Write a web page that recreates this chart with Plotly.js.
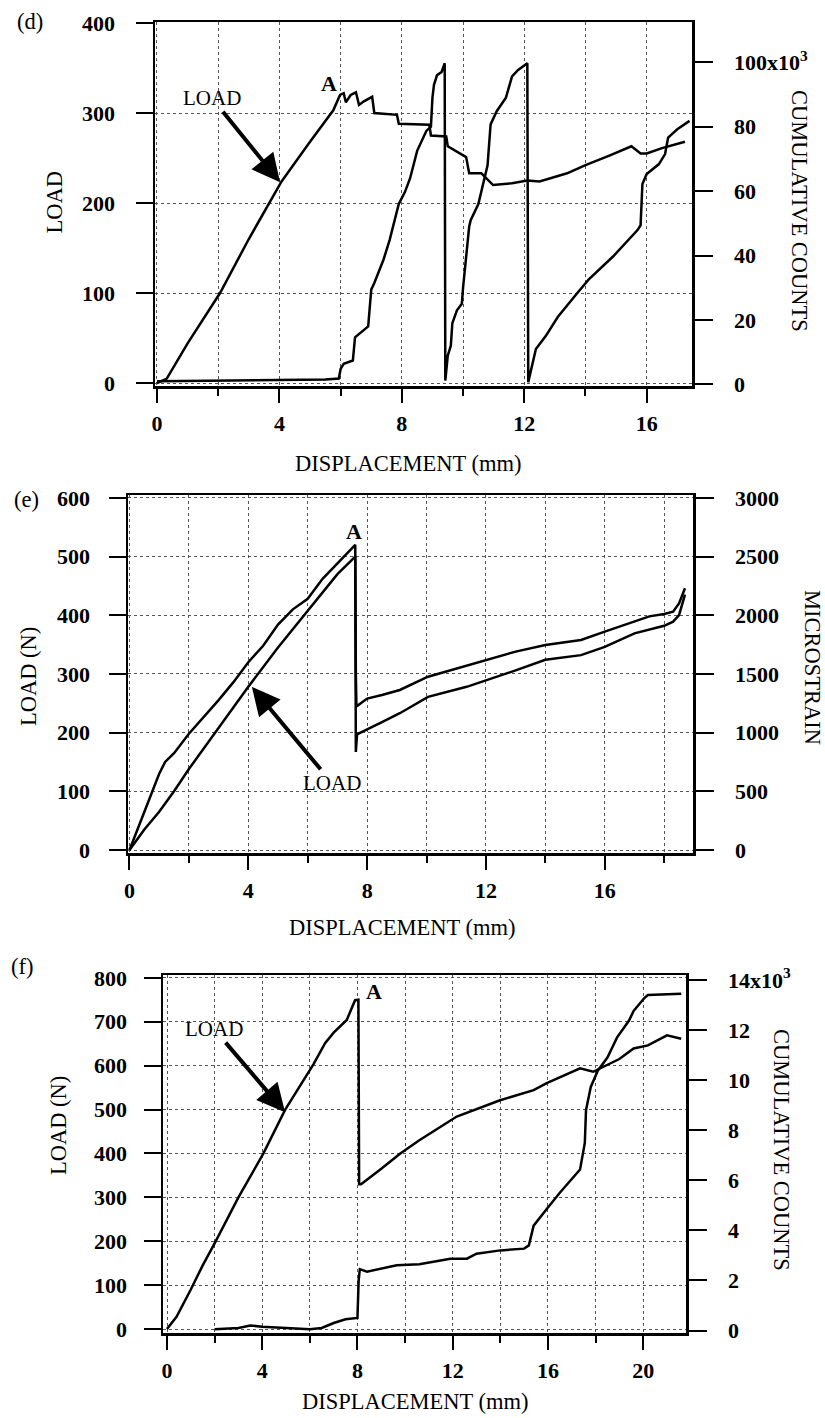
<!DOCTYPE html>
<html>
<head>
<meta charset="utf-8">
<script src="https://cdn.plot.ly/plotly-3.0.1.min.js"></script>
<style>
  html, body { margin: 0; padding: 0; background: #fff; }
  #chart { width: 825px; height: 1418px; }
</style>
</head>
<body>
<div id="chart"></div>
<script>
// ---------- Panel (d) ----------
const dLoadX = [0, 0.32, 1.0, 2.06, 3.0, 4.07, 5.0, 5.76, 5.98, 6.1, 6.17, 6.33, 6.5, 6.6, 6.76, 6.9, 7.03, 7.1, 7.84, 7.9, 8.9, 8.95, 9.45, 9.5, 10.1, 10.2, 10.6, 10.98, 11.6, 12.1, 12.5, 13.4, 14.0, 14.8, 15.5, 15.8, 16.0, 16.5, 17.25];
const dLoadY = [0, 5, 44, 100, 160, 224, 268, 303, 320, 322, 312, 320, 323, 309, 313, 316, 318, 300, 298, 288, 287, 275, 274, 263, 251, 233, 233, 220, 222, 225, 224, 233, 242, 253, 263, 255, 255, 261, 268];
const dCountsX = [0, 2, 4, 5.5, 5.94, 6.0, 6.1, 6.4, 6.47, 6.6, 6.9, 7.0, 7.1, 7.4, 7.6, 7.9, 8.1, 8.27, 8.5, 8.8, 8.95, 9.0, 9.05, 9.15, 9.3, 9.4, 9.42, 9.5, 9.6, 9.65, 9.8, 9.96, 10.0, 10.2, 10.25, 10.5, 10.6, 10.8, 10.9, 11.1, 11.4, 11.6, 11.8, 12.1, 12.13, 12.2, 12.38, 12.7, 13.1, 13.7, 14.1, 14.9, 15.7, 15.8, 15.86, 16.0, 16.4, 16.6, 16.7, 17.0, 17.4];
const dCountsY = [1.0, 1.2, 1.3, 1.5, 1.8, 4.8, 6.4, 7.4, 14.6, 15.6, 18, 29.4, 31.5, 38.7, 44.8, 56, 59.7, 64, 72.5, 78.7, 80, 89, 93, 96, 97, 99.7, 1.2, 8.9, 12, 19, 23, 25, 30, 49, 51, 56, 60, 68, 80.7, 84.8, 89, 95.6, 97.6, 99.7, 0.7, 3.8, 11, 15, 21, 28, 32.5, 39.7, 47.9, 49.4, 62.2, 65.3, 68.4, 71.5, 76.6, 79.2, 81.8];
const dCountsTickVals = [0, 20, 40, 60, 80, 100];
const dCountsTickText = ['0', '20', '40', '60', '80', '100x10<sup>3</sup>'];

// ---------- Panel (e) ----------
const eLoadX = [0, 0.5, 1.0, 1.5, 2.0, 3.0, 4.0, 5.0, 6.0, 7.0, 7.6, 7.62, 7.66, 8.0, 8.5, 9.1, 10.05, 11.35, 11.96, 13.0, 14.0, 15.2, 16.0, 17.0, 18.0, 18.3, 18.5, 18.64, 18.7];
const eLoadY = [0, 35, 65, 100, 138, 208, 278, 345, 408, 470, 500, 167, 197, 205, 218, 233, 261, 278, 288, 306, 324, 332, 346, 369, 382, 389, 400, 425, 435];
const eStrainX = [0, 0.3, 0.7, 1.0, 1.2, 1.5, 2, 2.5, 3, 3.5, 4, 4.5, 5, 5.5, 6, 6.5, 7, 7.3, 7.6, 7.62, 7.64, 7.68, 8, 8.5, 9.1, 10.05, 11.0, 11.96, 13.0, 14.0, 15.2, 16.0, 17.0, 17.5, 18.0, 18.3, 18.5, 18.64, 18.7];
const eStrainY = [0, 200, 450, 650, 750, 825, 990, 1130, 1277, 1430, 1600, 1740, 1920, 2050, 2140, 2310, 2445, 2520, 2600, 1500, 1225, 1230, 1290, 1320, 1363, 1476, 1545, 1618, 1690, 1746, 1789, 1860, 1945, 1990, 2010, 2030, 2100, 2187, 2230];

// ---------- Panel (f) ----------
const fLoadX = [0, 0.4, 1.0, 1.5, 2.0, 3.0, 4.05, 4.96, 6.15, 6.64, 7.0, 7.55, 7.9, 8.04, 8.07, 8.15, 9.0, 9.8, 10.6, 12.17, 13.99, 15.4, 15.95, 16.5, 17.35, 17.9, 18.2, 19.0, 19.6, 20.2, 21.0, 21.6];
const fLoadY = [0, 28, 90, 145, 195, 300, 400, 499, 603, 651, 675, 704, 749, 750, 330, 330, 365, 400, 430, 484, 521, 544, 560, 573, 594, 586, 594, 615, 639, 646, 669, 661];
const fCountsX = [2.0, 3.0, 3.5, 4.0, 5.0, 6.0, 6.5, 7.0, 7.5, 8.0, 8.05, 8.1, 8.4, 9.65, 10.6, 11.9, 12.6, 13.0, 14.0, 15.0, 15.2, 15.4, 15.95, 16.5, 17.35, 17.55, 17.6, 17.8, 18.1, 18.5, 18.9, 19.4, 19.6, 20.05, 20.2, 21.0, 21.6];
const fCountsY = [0.05, 0.1, 0.2, 0.15, 0.1, 0.05, 0.1, 0.3, 0.45, 0.5, 2.0, 2.45, 2.35, 2.61, 2.65, 2.87, 2.87, 3.07, 3.2, 3.27, 3.4, 4.19, 4.85, 5.5, 6.43, 7.49, 8.8, 9.73, 10.39, 10.9, 11.7, 12.37, 12.76, 13.28, 13.4, 13.42, 13.45];
const fCountsTickVals = [0, 2, 4, 6, 8, 10, 12, 14];
const fCountsTickText = ['0', '2', '4', '6', '8', '10', '12', '14x10<sup>3</sup>'];

const FONT = 'Liberation Serif, Times New Roman, serif';
const LINE = {color: '#000', width: 2.5};
const GRID = '#555';
const TICKFONT = {family: FONT, size: 22, color: '#000', weight: 'bold'};
const TITLEFONT = {family: FONT, size: 22.5, color: '#000'};

function xAxis(domain, anchor, range) {
  return {
    domain: domain, anchor: anchor, range: range,
    tick0: 0, dtick: 4, ticks: 'outside', ticklen: 14, tickwidth: 2, tickcolor: '#000',
    ticklabelstandoff: 2,
    tickprefix: '<b>', ticksuffix: '</b>',
    showline: true, linewidth: 2.5, linecolor: '#000', mirror: true,
    showgrid: true, gridcolor: GRID, griddash: 'dot', gridwidth: 1,
    zeroline: false,
    minor: {tick0: 0, dtick: 2, ticks: 'outside', ticklen: 7, tickwidth: 2, tickcolor: '#000',
            showgrid: true, gridcolor: GRID, griddash: 'dot', gridwidth: 1},
    tickfont: TICKFONT
  };
}
function yLeft(domain, anchor, range, labelStandoff) {
  return {
    domain: domain, anchor: anchor, range: range,
    tick0: 0, dtick: 100, ticks: 'outside', ticklen: 17, tickwidth: 2, tickcolor: '#000',
    ticklabelstandoff: labelStandoff,
    tickprefix: '<b>', ticksuffix: '</b>',
    showline: true, linewidth: 2.5, linecolor: '#000',
    showgrid: true, gridcolor: GRID, griddash: 'dot', gridwidth: 1,
    zeroline: false,
    tickfont: TICKFONT
  };
}
function yRight(overlay, anchor, range, tickvals, ticktext) {
  const a = {
    overlaying: overlay, side: 'right', anchor: anchor, range: range,
    ticks: 'outside', ticklen: 18, tickwidth: 2, tickcolor: '#000',
    ticklabelstandoff: 17,
    showline: true, linewidth: 2.5, linecolor: '#000',
    showgrid: false, zeroline: false,
    tickfont: TICKFONT
  };
  if (tickvals) {
    a.tickmode = 'array'; a.tickvals = tickvals;
    a.ticktext = ticktext.map(function (t) { return '<b>' + t + '</b>'; });
  } else {
    a.tick0 = 0; a.dtick = 500; a.tickprefix = '<b>'; a.ticksuffix = '</b>';
  }
  return a;
}

const traces = [
  {x: dLoadX, y: dLoadY, xaxis: 'x', yaxis: 'y', mode: 'lines', line: LINE, name: 'LOAD'},
  {x: dCountsX, y: dCountsY, xaxis: 'x', yaxis: 'y2', mode: 'lines', line: LINE, name: 'CUMULATIVE COUNTS'},
  {x: eLoadX, y: eLoadY, xaxis: 'x2', yaxis: 'y3', mode: 'lines', line: LINE, name: 'LOAD (N)'},
  {x: eStrainX, y: eStrainY, xaxis: 'x2', yaxis: 'y4', mode: 'lines', line: LINE, name: 'MICROSTRAIN'},
  {x: fLoadX, y: fLoadY, xaxis: 'x3', yaxis: 'y5', mode: 'lines', line: LINE, name: 'LOAD (N)'},
  {x: fCountsX, y: fCountsY, xaxis: 'x3', yaxis: 'y6', mode: 'lines', line: LINE, name: 'CUMULATIVE COUNTS'}
];

function txt(text, x, y, xref, yref, opts) {
  return Object.assign({text: text, x: x, y: y, xref: xref, yref: yref, showarrow: false,
    xanchor: 'center', yanchor: 'middle',
    font: {family: FONT, size: 21, color: '#000'}}, opts || {});
}
function px(text, cx, cy, angle) {
  return txt(text, cx / 825, 1 - cy / 1418, 'paper', 'paper', {textangle: angle || 0, font: TITLEFONT});
}
function arrowLoad(x, y, xref, yref, ax, ay) {
  return {text: 'LOAD', x: x, y: y, xref: xref, yref: yref, ax: ax, ay: ay,
    showarrow: true, arrowhead: 2, arrowsize: 1.4, arrowwidth: 4, arrowcolor: '#000',
    font: {family: FONT, size: 21, color: '#000'}};
}

const annotations = [
  txt('(d)', 30 / 825, 1 - 22 / 1418, 'paper', 'paper', {font: TITLEFONT}),
  txt('(e)', 26 / 825, 1 - 499 / 1418, 'paper', 'paper', {font: TITLEFONT}),
  txt('(f)', 22 / 825, 1 - 966 / 1418, 'paper', 'paper', {font: TITLEFONT}),
  // axis titles
  px('DISPLACEMENT (mm)', 408, 463),
  px('DISPLACEMENT (mm)', 402, 927),
  px('DISPLACEMENT (mm)', 415, 1401),
  px('LOAD', 53.5, 202, -90),
  px('LOAD (N)', 28, 677, -90),
  px('LOAD (N)', 58, 1125, -90),
  px('CUMULATIVE COUNTS', 800, 211, 90),
  px('MICROSTRAIN', 813, 667, 90),
  px('CUMULATIVE COUNTS', 782, 1150, 90),
  // peak markers
  txt('<b>A</b>', 5.62, 333, 'x', 'y', {font: {family: FONT, size: 22, color: '#000'}}),
  txt('<b>A</b>', 7.56, 542, 'x2', 'y3', {font: {family: FONT, size: 22, color: '#000'}}),
  txt('<b>A</b>', 8.7, 768, 'x3', 'y5', {font: {family: FONT, size: 22, color: '#000'}}),
  arrowLoad(4.02, 223, 'x', 'y', -68, -84),
  arrowLoad(4.12, 278, 'x2', 'y3', 80, 96),
  arrowLoad(4.96, 494, 'x3', 'y5', -71, -83)
];

const layout = {
  width: 825, height: 1418,
  margin: {l: 0, r: 0, t: 0, b: 0},
  paper_bgcolor: '#fff', plot_bgcolor: '#fff',
  showlegend: false,
  font: {family: FONT, color: '#000'},
  xaxis: xAxis([155 / 825, 692 / 825], 'y', [-0.065, 17.48]),
  yaxis: yLeft([1 - 386 / 1418, 1 - 22 / 1418], 'x', [-3.3, 401.1], 16),
  yaxis2: yRight('y', 'x', [-0.5, 112.5], dCountsTickVals, dCountsTickText),
  xaxis2: xAxis([128 / 825, 693 / 825], 'y3', [-0.05, 18.97]),
  yaxis3: yLeft([1 - 853 / 1418, 1 - 495 / 1418], 'x2', [-5.1, 604.8], 14),
  yaxis4: yRight('y3', 'x2', [-25.5, 3024], null, null),
  xaxis3: xAxis([163 / 825, 686 / 825], 'y5', [-0.168, 21.8]),
  yaxis5: yLeft([1 - 1333 / 1418, 1 - 975 / 1418], 'x3', [-9.1, 806.4], 12),
  yaxis6: yRight('y5', 'x3', [-0.1, 14.2], fCountsTickVals, fCountsTickText),
  annotations: annotations
};

Plotly.newPlot('chart', traces, layout, {displayModeBar: false, staticPlot: true});
</script>
</body>
</html>
